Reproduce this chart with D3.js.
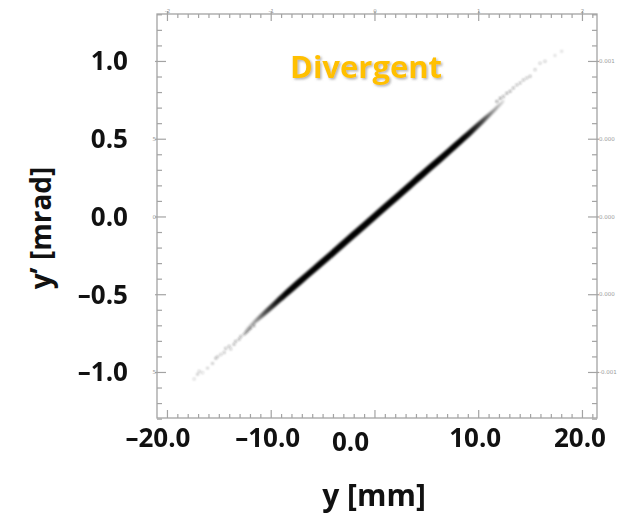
<!DOCTYPE html>
<html><head><meta charset="utf-8">
<script src="https://cdn.jsdelivr.net/npm/d3@7"></script>
<style>body{margin:0;background:#fff} svg{display:block}</style>
</head><body><svg id="c" width="623" height="529"></svg>
<script>
// ---------- data ----------
const yMajorTicks = [-1.0, -0.5, 0.0, 0.5, 1.0];
const yTickLabels = ["–1.0", "–0.5", "0.0", "0.5", "1.0"];
const xMajorTicks = [-20, -10, 0, 10, 20];
const xTickLabels = ["–20.0", "–10.0", "0.0", "10.0", "20.0"];
const topTicks = [-2, -1, 0, 1, 2];
const topTickLabels = ["-2", "-1", "0", "1", "2"];
const rightTickLabels = ["-0.001", "0.000", "0.000", "0.000", "0.001"];
const leftSmallLabels = ["5", "", "0", "5", ""];

// dense core of the beam (y in mm, y' in mrad)
const coreY       = [-12.5, -11.5, -10.5, -9.5, -8.5, -7, -5, -3, 0, 3, 5, 7, 8.5, 9.5, 10.5, 11.5, 12.5];
const coreCenter  = [-0.74, -0.675, -0.615, -0.555, -0.495, -0.408, -0.292, -0.175, 0.0, 0.175, 0.292, 0.408, 0.497, 0.557, 0.618, 0.68, 0.745];
const coreHalf    = [0.01, 0.015, 0.02, 0.023, 0.025, 0.026, 0.027, 0.027, 0.027, 0.027, 0.027, 0.026, 0.025, 0.023, 0.02, 0.015, 0.01];
const coreDensity = [0.15, 0.4, 0.7, 0.9, 1, 1, 1, 1, 1, 1, 1, 1, 1, 0.9, 0.7, 0.4, 0.15];

// sparse tail particles
const tailY  = [-17.38, -17.05, -16.89, -16.57, -16.09, -15.61, -15.29, -15.13, -14.81, -14.49, -14.33, -14.01, -13.85, -13.53, -13.37, -13.05, -12.88, -12.57, -12.40, -12.24, -12.09, -11.92, -11.61,
                 18.05, 17.40, 16.44, 15.96, 15.48, 15.00, 14.68, 14.36, 14.04, 13.72, 13.39, 13.08, 12.76, 12.43, 12.12, 11.80];
const tailYp = [-1.045, -1.015, -0.995, -1.005, -0.975, -0.945, -0.912, -0.902, -0.888, -0.875, -0.848, -0.834, -0.852, -0.822, -0.802, -0.79, -0.772, -0.758, -0.748, -0.738, -0.727, -0.717, -0.702,
                 1.062, 1.035, 0.998, 0.986, 0.944, 0.902, 0.89, 0.878, 0.858, 0.846, 0.826, 0.805, 0.793, 0.772, 0.76, 0.74];
const tailAlpha = [0.25, 0.3, 0.3, 0.25, 0.3, 0.35, 0.4, 0.35, 0.35, 0.4, 0.45, 0.4, 0.35, 0.45, 0.45, 0.5, 0.5, 0.5, 0.55, 0.55, 0.55, 0.6, 0.6,
                   0.2, 0.2, 0.3, 0.3, 0.35, 0.4, 0.4, 0.45, 0.45, 0.45, 0.5, 0.5, 0.55, 0.55, 0.6, 0.6];

// ---------- layout ----------
const L = 157, R = 597, T = 14, B = 418;
const svg = d3.select("#c");
const x = d3.scaleLinear().domain([-20.96, 21.45]).range([L, R]);
const xTop = d3.scaleLinear().domain([-2.096, 2.145]).range([L, R]);
const y = d3.scaleLinear().domain([-1.296, 1.302]).range([B, T]);
const axisColor = "#a3a3a3";
const bottomLabelNudge = [-9, -3, -24, -3, -2];
const bottomLabelDrop = [0, 0, 4, 0, 0];

const defs = svg.append("defs");
const blur = defs.append("filter").attr("id", "soft").attr("x", "-10%").attr("y", "-10%").attr("width", "120%").attr("height", "120%");
blur.append("feGaussianBlur").attr("stdDeviation", 0.8);
const shadow = defs.append("filter").attr("id", "shadow").attr("x", "-10%").attr("y", "-20%").attr("width", "130%").attr("height", "150%");
shadow.append("feDropShadow").attr("dx", 1.5).attr("dy", 1.5).attr("stdDeviation", 1).attr("flood-color", "#777").attr("flood-opacity", 0.55);

// gradient for core density
const grad = defs.append("linearGradient").attr("id", "coreGrad")
  .attr("gradientUnits", "userSpaceOnUse")
  .attr("x1", x(coreY[0])).attr("x2", x(coreY[coreY.length - 1])).attr("y1", 0).attr("y2", 0);
const span = coreY[coreY.length - 1] - coreY[0];
grad.selectAll("stop").data(coreY).join("stop")
  .attr("offset", d => (d - coreY[0]) / span)
  .attr("stop-color", "#050505")
  .attr("stop-opacity", (d, i) => coreDensity[i]);

// ---------- frame & axes ----------
svg.append("rect").attr("x", L).attr("y", T).attr("width", R - L).attr("height", B - T)
  .attr("fill", "#fff").attr("stroke", axisColor).attr("stroke-width", 1.3);

function styleAxis(g) {
  g.select(".domain").remove();
  g.selectAll("line").attr("stroke", axisColor).attr("stroke-width", 1.2);
  g.selectAll("text").attr("fill", "#9a9a9a").attr("font-family", "DejaVu Sans").attr("font-size", 5.5);
}
const minorX = d3.range(-20, 22).map(i => i / 10).filter(v => Math.abs(v * 10 % 10) > 1e-6);
const minorXmm = minorX.map(v => v * 10);
const minorY = d3.range(-13, 14).map(i => i / 10).filter(v => Math.abs(v * 10 % 5) > 1e-6);

// top
svg.append("g").attr("transform", `translate(0,${T})`)
  .call(d3.axisTop(xTop).tickValues(minorX).tickSizeInner(-4).tickSizeOuter(0).tickFormat("")).call(styleAxis);
svg.append("g").attr("transform", `translate(0,${T})`)
  .call(d3.axisTop(xTop).tickValues(topTicks).tickSizeInner(-7).tickSizeOuter(0).tickPadding(1)
    .tickFormat((d, i) => topTickLabels[i])).call(styleAxis)
  .call(g => g.selectAll("line").attr("y1", -3));
// bottom
svg.append("g").attr("transform", `translate(0,${B})`)
  .call(d3.axisBottom(x).tickValues(minorXmm).tickSizeInner(-4).tickSizeOuter(0).tickFormat("")).call(styleAxis);
svg.append("g").attr("transform", `translate(0,${B})`)
  .call(d3.axisBottom(x).tickValues(xMajorTicks).tickSizeInner(-8).tickSizeOuter(0).tickFormat("")).call(styleAxis);
// left
svg.append("g").attr("transform", `translate(${L},0)`)
  .call(d3.axisLeft(y).tickValues(minorY).tickSizeInner(-5).tickSizeOuter(0).tickFormat("")).call(styleAxis);
svg.append("g").attr("transform", `translate(${L},0)`)
  .call(d3.axisLeft(y).tickValues(yMajorTicks).tickSizeInner(-9).tickSizeOuter(0).tickPadding(1)
    .tickFormat((d, i) => leftSmallLabels[i])).call(styleAxis)
  .call(g => g.selectAll("line").attr("x1", -2));
// right
svg.append("g").attr("transform", `translate(${R},0)`)
  .call(d3.axisRight(y).tickValues(minorY).tickSizeInner(-5).tickSizeOuter(0).tickFormat("")).call(styleAxis);
svg.append("g").attr("transform", `translate(${R},0)`)
  .call(d3.axisRight(y).tickValues(yMajorTicks).tickSizeInner(-9).tickSizeOuter(0).tickPadding(2)
    .tickFormat((d, i) => rightTickLabels[i])).call(styleAxis)
  .call(g => g.selectAll("line").attr("x1", 2));

// ---------- beam ----------
const plot = svg.append("g");
plot.append("g").attr("filter", "url(#soft)")
  .selectAll("circle").data(tailY).join("circle")
  .attr("cx", d => x(d)).attr("cy", (d, i) => y(tailYp[i]))
  .attr("r", 1.2).attr("fill", "#222").attr("opacity", (d, i) => tailAlpha[i]);

const area = d3.area()
  .x(d => x(d))
  .y0((d, i) => y(coreCenter[i] - coreHalf[i]))
  .y1((d, i) => y(coreCenter[i] + coreHalf[i]))
  .curve(d3.curveCatmullRom);
plot.append("path").datum(coreY).attr("d", area)
  .attr("fill", "url(#coreGrad)").attr("filter", "url(#soft)");

// ---------- big labels ----------
const bigFont = "'Open Sans', Lato, sans-serif";
svg.append("g").selectAll("text").data(yMajorTicks).join("text")
  .attr("x", 128).attr("y", d => y(d)).attr("dy", "0.36em")
  .attr("text-anchor", "end").attr("font-family", bigFont).attr("font-weight", 700)
  .attr("font-size", 26).attr("fill", "#111")
  .text((d, i) => yTickLabels[i]);

svg.append("g").selectAll("text").data(xMajorTicks).join("text")
  .attr("x", (d, i) => x(d) + bottomLabelNudge[i]).attr("y", (d, i) => 447 + bottomLabelDrop[i])
  .attr("text-anchor", "middle").attr("font-family", bigFont).attr("font-weight", 700)
  .attr("font-size", 26).attr("fill", "#111")
  .text((d, i) => xTickLabels[i]);

svg.append("text").attr("x", 374).attr("y", 506).attr("text-anchor", "middle")
  .attr("font-family", bigFont).attr("font-weight", 700).attr("font-size", 30).attr("fill", "#111")
  .text("y [mm]");

svg.append("text").attr("transform", "translate(51,228) rotate(-90)").attr("text-anchor", "middle")
  .attr("font-family", bigFont).attr("font-weight", 700).attr("font-size", 28).attr("fill", "#111")
  .text("y’ [mrad]");

svg.append("text").attr("x", 366).attr("y", 78).attr("text-anchor", "middle")
  .attr("font-family", bigFont).attr("font-weight", 700).attr("font-size", 31).attr("fill", "#FFC000")
  .attr("filter", "url(#shadow)")
  .text("Divergent");
</script></body></html>
